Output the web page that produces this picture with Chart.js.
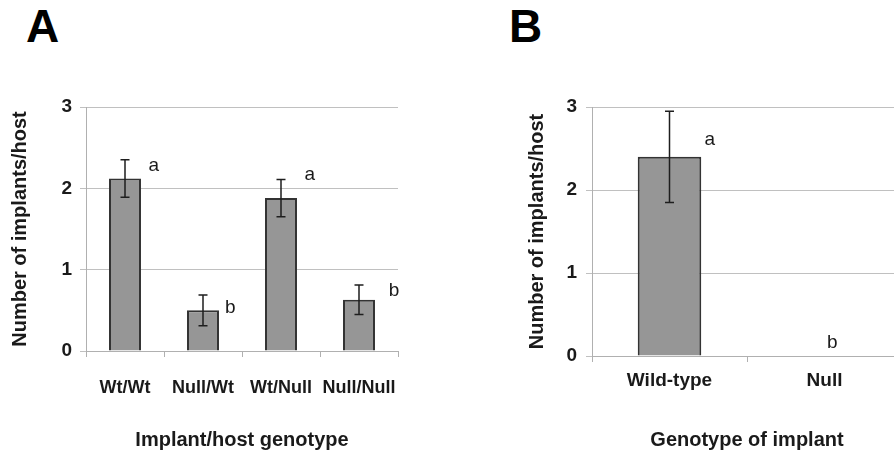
<!DOCTYPE html>
<html>
<head>
<meta charset="utf-8">
<script src="https://cdn.jsdelivr.net/npm/chart.js@4/dist/chart.umd.min.js"></script>
<style>
html,body{margin:0;padding:0;background:#fff;overflow:hidden;width:894px;height:450px;}
#wrap{position:relative;width:894px;height:450px;overflow:hidden;background:#fff;}
canvas{position:absolute;top:0;}
#cA{left:0;}
#cB{left:500px;}
.lab{position:absolute;top:3px;font-family:"Liberation Sans",Arial,sans-serif;font-weight:bold;font-size:46px;line-height:46px;color:#000;}
</style>
</head>
<body>
<div id="wrap">
  <div class="lab" style="left:26px;">A</div>
  <div class="lab" style="left:509px;">B</div>
  <canvas id="cA" width="440" height="450"></canvas>
  <canvas id="cB" width="410" height="450"></canvas>
</div>
<script>
// ---------- data ----------
const categoriesA = ['Wt/Wt', 'Null/Wt', 'Wt/Null', 'Null/Null'];
const meansA      = [2.12, 0.50, 1.88, 0.63];
const errorsA     = [0.23, 0.19, 0.23, 0.18];
const lettersA    = ['a', 'b', 'a', 'b'];
const letterValA  = [2.28, 0.53, 2.17, 0.74];

const categoriesB = ['Wild-type', 'Null'];
const meansB      = [2.40, 0];
const errorsB     = [0.55, 0];
const lettersB    = ['a', 'b'];
const letterValB  = [2.60, 0.16];

const yTickValues = [0, 1, 2, 3];
const yTitle  = 'Number of implants/host';
const xTitleA = 'Implant/host genotype';
const xTitleB = 'Genotype of implant';

// annotation placement (category-unit shift of each letter from its bar centre)
const letterShiftA = [0.37, 0.35, 0.37, 0.45];
const letterShiftB = [0.26, 0.05];

// ---------- styling / drawing ----------
const FONT = "'Liberation Sans', Arial, sans-serif";
const TXT = '#1a1a1a';
const GRID = '#c0c0c0';
const AXIS = '#b0b0b0';

const errorBarPlugin = {
  id: 'errorBars',
  afterDatasetsDraw(chart, args, opts) {
    const {ctx, scales: {x, y}} = chart;
    const ds = chart.data.datasets[0];
    const meta = chart.getDatasetMeta(0);
    ctx.save();
    ctx.strokeStyle = '#1e1e1e';
    ctx.lineWidth = 1.5;
    meta.data.forEach((bar, i) => {
      const m = ds.data[i], e = opts.errors[i];
      if (!e) return;
      const px = bar.x;
      const t = y.getPixelForValue(m + e), b = y.getPixelForValue(m - e);
      ctx.beginPath();
      ctx.moveTo(px, t); ctx.lineTo(px, b);
      ctx.moveTo(px - opts.cap, t); ctx.lineTo(px + opts.cap, t);
      ctx.moveTo(px - opts.cap, b); ctx.lineTo(px + opts.cap, b);
      ctx.stroke();
    });
    ctx.fillStyle = TXT;
    ctx.font = '19px ' + FONT;
    ctx.textAlign = 'center';
    ctx.textBaseline = 'middle';
    opts.letters.forEach((l, i) => {
      ctx.fillText(l, x.getPixelForValue(i + opts.shift[i]), y.getPixelForValue(opts.letterVals[i]));
    });
    ctx.restore();
  }
};

function makeChart(id, cats, means, errs, letters, letterVals, shift, cfg) {
  return new Chart(document.getElementById(id), {
    type: 'bar',
    data: {
      labels: cats,
      datasets: [{
        data: means,
        backgroundColor: '#969696',
        borderColor: '#333333',
        borderWidth: 2,
        borderSkipped: 'start',
        categoryPercentage: 0.41,
        barPercentage: 1.0
      }]
    },
    options: {
      responsive: false,
      animation: false,
      devicePixelRatio: 1,
      layout: {padding: {top: 107, right: cfg.padRight, bottom: 0, left: 0}},
      plugins: {
        legend: {display: false},
        tooltip: {enabled: false},
        errorBars: {errors: errs, cap: 4.5, letters: letters, letterVals: letterVals, shift: shift}
      },
      scales: {
        x: {
          afterFit: s => { s.height = cfg.xHeight; },
          grid: {display: true, drawOnChartArea: false, drawTicks: true, tickLength: 6, color: AXIS, offset: true},
          border: {color: AXIS, width: 1},
          ticks: {color: TXT, font: {family: FONT, size: cfg.xTickSize, weight: 'bold'}, padding: cfg.xTickPad, maxRotation: 0},
          title: {display: true, text: cfg.xTitle, color: TXT, font: {family: FONT, size: 20, weight: 'bold', lineHeight: 1}, padding: {top: 0, bottom: 0}}
        },
        y: {
          min: 0, max: 3,
          afterFit: s => { s.width = cfg.yWidth; },
          afterBuildTicks: s => { s.ticks = yTickValues.map(v => ({value: v})); },
          grid: {color: GRID, lineWidth: 1, tickLength: 6},
          border: {color: AXIS, width: 1},
          ticks: {color: TXT, font: {family: FONT, size: 19, weight: 'bold'}, padding: cfg.yTickPad},
          title: {display: true, text: yTitle, color: TXT, font: {family: FONT, size: 20, weight: 'bold', lineHeight: 1}, padding: {top: cfg.yTitlePad, bottom: 0}}
        }
      }
    },
    plugins: [errorBarPlugin]
  });
}

makeChart('cA', categoriesA, meansA, errorsA, lettersA, letterValA, letterShiftA,
  {padRight: 42, xHeight: 99, yWidth: 86, xTickSize: 18, xTickPad: 20, yTickPad: 8, yTitlePad: 10, xTitle: xTitleA});
makeChart('cB', categoriesB, meansB, errorsB, lettersB, letterValB, letterShiftB,
  {padRight: 8, xHeight: 94, yWidth: 92, xTickSize: 19, xTickPad: 7, yTickPad: 9, yTitlePad: 27, xTitle: xTitleB});
</script>
</body>
</html>
